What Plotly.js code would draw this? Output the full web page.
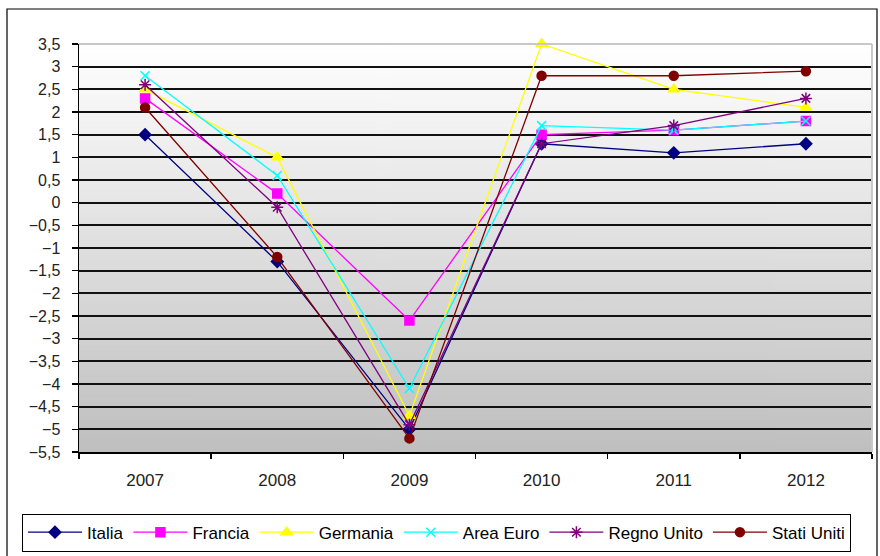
<!DOCTYPE html>
<html>
<head>
<meta charset="utf-8">
<script src="https://cdn.plot.ly/plotly-3.0.1.min.js"></script>
<style>html,body{margin:0;padding:0;background:#fff;}#chart{width:880px;height:556px;}</style>
</head>
<body>
<div id="chart"></div>
<script>
var years = ['2007', '2008', '2009', '2010', '2011', '2012'];
var italia = [1.5, -1.3, -5.0, 1.3, 1.1, 1.3];
var francia = [2.3, 0.2, -2.6, 1.5, 1.6, 1.8];
var germania = [2.5, 1.0, -4.7, 3.5, 2.5, 2.1];
var areaEuro = [2.8, 0.6, -4.1, 1.7, 1.6, 1.8];
var regnoUnito = [2.6, -0.1, -4.9, 1.3, 1.7, 2.3];
var statiUniti = [2.1, -1.2, -5.2, 2.8, 2.8, 2.9];
var yTicks = [3.5, 3, 2.5, 2, 1.5, 1, 0.5, 0, -0.5, -1, -1.5, -2, -2.5, -3, -3.5, -4, -4.5, -5, -5.5];

var seriesDefs = [
  {name: 'Italia', y: italia, color: '#000080', symbol: 'diamond', size: 9},
  {name: 'Francia', y: francia, color: '#FF00FF', symbol: 'square', size: 9},
  {name: 'Germania', y: germania, color: '#FFFF00', symbol: 'triangle-up', size: 10},
  {name: 'Area Euro', y: areaEuro, color: '#00FFFF', symbol: 'x-thin-open', size: 9},
  {name: 'Regno Unito', y: regnoUnito, color: '#800080', symbol: 'asterisk-open', size: 10},
  {name: 'Stati Uniti', y: statiUniti, color: '#800000', symbol: 'circle', size: 9}
];

var traces = seriesDefs.map(function (s) {
  return {
    type: 'scatter', mode: 'lines+markers', name: s.name,
    x: years, y: s.y,
    line: {color: s.color, width: 1.3},
    marker: {symbol: s.symbol, size: s.size, color: s.color, line: {color: s.color, width: 1.5}},
    cliponaxis: false
  };
});

// vertical gradient background image
var cv = document.createElement('canvas');
cv.width = 4; cv.height = 400;
var ctx = cv.getContext('2d');
var g = ctx.createLinearGradient(0, 0, 0, 400);
g.addColorStop(0, '#ffffff');
g.addColorStop(1, '#bfbfbf');
ctx.fillStyle = g;
ctx.fillRect(0, 0, 4, 400);
var bgURI = cv.toDataURL('image/png');

var layout = {
  width: 880, height: 556,
  margin: {l: 79, r: 8, t: 44, b: 104, autoexpand: false},
  paper_bgcolor: '#ffffff',
  plot_bgcolor: 'rgba(0,0,0,0)',
  separators: ',.',
  font: {family: 'Liberation Sans, Arial, sans-serif', size: 17, color: '#222'},
  showlegend: true,
  legend: {
    orientation: 'h', x: -0.0719, y: -0.151, xanchor: 'left', yanchor: 'top',
    bordercolor: '#000', borderwidth: 1, bgcolor: '#fff',
    font: {size: 17, color: '#000'}, itemwidth: 54, tracegroupgap: 0
  },
  xaxis: {
    type: 'category', range: [-0.5, 5.5], fixedrange: true,
    showgrid: false, showline: true, linecolor: '#000', linewidth: 1.5,
    ticks: 'outside', tickson: 'boundaries', ticklen: 5, tickcolor: '#000', tickwidth: 1.5,
    tickfont: {size: 17, color: '#222'}, ticklabelstandoff: 12
  },
  yaxis: {
    range: [-5.5, 3.5], tickvals: yTicks, fixedrange: true,
    showgrid: true, gridcolor: '#111', gridwidth: 2,
    zeroline: false, showline: true, linecolor: '#000', linewidth: 1.5,
    ticks: 'outside', ticklen: 6, tickcolor: '#000', tickwidth: 1.5,
    tickfont: {size: 16, color: '#222'}, tickformat: ',.1~f', ticklabelstandoff: 8
  },
  images: [{
    source: bgURI, xref: 'paper', yref: 'paper', x: 0, y: 1, sizex: 1, sizey: 1,
    sizing: 'stretch', layer: 'below', xanchor: 'left', yanchor: 'top'
  }],
  shapes: [
    {type: 'line', xref: 'paper', yref: 'paper', x0: 0, x1: 1, y0: 1, y1: 1, line: {color: '#c8c8c8', width: 2}, layer: 'above'},
    {type: 'line', xref: 'paper', yref: 'paper', x0: 1, x1: 1, y0: 0, y1: 1, line: {color: '#c8c8c8', width: 2}, layer: 'above'},
    {type: 'rect', xref: 'paper', yref: 'paper', x0: -0.0908, x1: 1.0063, y0: -0.27, y1: 1.0858, line: {color: '#000', width: 1.2}, fillcolor: 'rgba(0,0,0,0)', layer: 'below'}
  ]
};

Plotly.newPlot('chart', traces, layout, {displayModeBar: false, staticPlot: true});
</script>
</body>
</html>
